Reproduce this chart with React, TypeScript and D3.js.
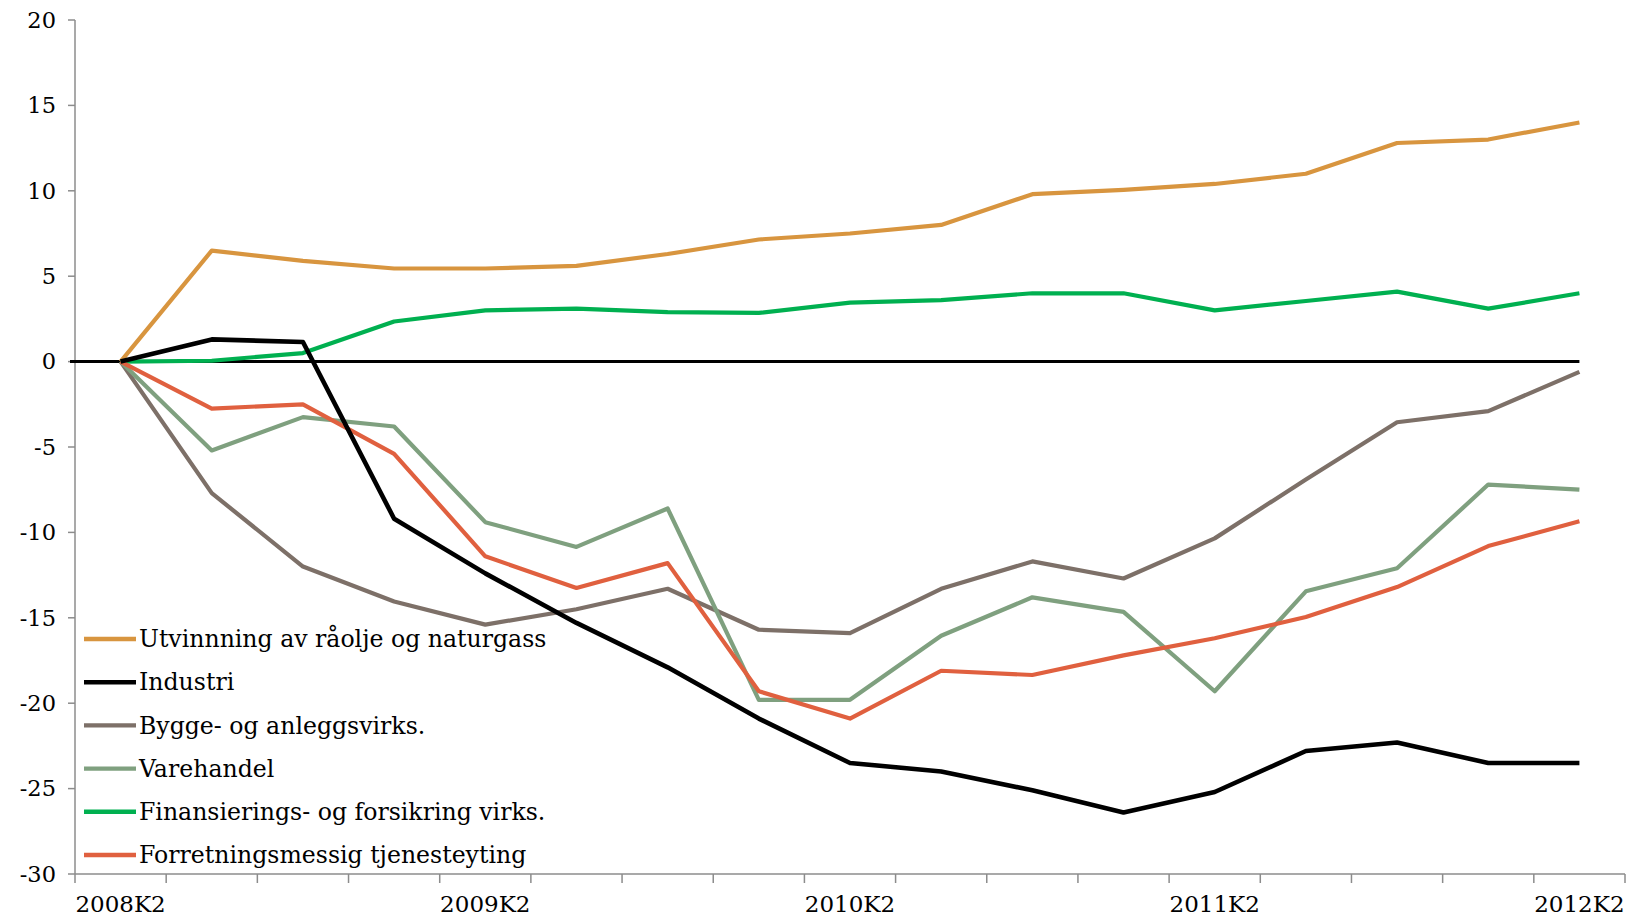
import React from "react";
import * as d3 from "d3";

const categories = [
  "2008K2","2008K3","2008K4","2009K1","2009K2","2009K3","2009K4","2010K1",
  "2010K2","2010K3","2010K4","2011K1","2011K2","2011K3","2011K4","2012K1","2012K2",
];
const shownLabels = ["2008K2", "2009K2", "2010K2", "2011K2", "2012K2"];
const yTicks = [-30, -25, -20, -15, -10, -5, 0, 5, 10, 15, 20];

const utvinning = [0, 6.5, 5.9, 5.45, 5.45, 5.6, 6.3, 7.15, 7.5, 8.0, 9.8, 10.05, 10.4, 11.0, 12.8, 13.0, 14.0];
const industri = [0, 1.3, 1.15, -9.2, -12.4, -15.3, -17.9, -20.9, -23.5, -24.0, -25.1, -26.4, -25.2, -22.8, -22.3, -23.5, -23.5];
const bygge = [0, -7.7, -12.0, -14.05, -15.4, -14.5, -13.3, -15.7, -15.9, -13.3, -11.7, -12.7, -10.35, -6.9, -3.55, -2.9, -0.6];
const varehandel = [0, -5.2, -3.25, -3.8, -9.4, -10.85, -8.6, -19.8, -19.8, -16.05, -13.8, -14.65, -19.3, -13.45, -12.1, -7.2, -7.5];
const finans = [0, 0.05, 0.5, 2.35, 3.0, 3.1, 2.9, 2.85, 3.45, 3.6, 4.0, 4.0, 3.0, 3.55, 4.1, 3.1, 4.0];
const forretning = [0, -2.75, -2.5, -5.4, -11.4, -13.25, -11.8, -19.3, -20.9, -18.1, -18.35, -17.2, -16.2, -14.95, -13.2, -10.8, -9.35];

const seriesNames = [
  "Utvinnning av råolje og naturgass",
  "Industri",
  "Bygge- og anleggsvirks.",
  "Varehandel",
  "Finansierings- og forsikring virks.",
  "Forretningsmessig tjenesteyting",
];
const seriesValues = [utvinning, industri, bygge, varehandel, finans, forretning];
const seriesColors = ["#D8953F", "#000000", "#7D7068", "#7FA07F", "#00B050", "#E0603F"];

const W = 1627;
const H = 923;
const left = 75;
const right = 1625;
const top = 20;
const bottom = 874;
const font = "'DejaVu Serif', 'Liberation Serif', serif";

export default function App() {
  const x = d3.scaleBand<string>().domain(categories).range([left, right]);
  const cx = (c: string) => (x(c) as number) + x.bandwidth() / 2;
  const y = d3.scaleLinear().domain([-30, 20]).range([bottom, top]);
  const line = d3
    .line<number>()
    .x((_, i) => cx(categories[i]))
    .y((v) => y(v));

  const drawOrder = [0, 4, 2, 3, 5, 1];
  const boundaries = categories.map((c) => x(c) as number).concat([right]);

  return (
    <svg
      width={W}
      height={H}
      style={{ position: "absolute", left: 0, top: 0, background: "#fff" }}
    >
      {/* y axis */}
      <line x1={left} x2={left} y1={top} y2={bottom} stroke="#8c8c8c" strokeWidth={1.5} />
      {yTicks.map((t) => (
        <g key={t}>
          <line x1={left - 7} x2={left} y1={y(t)} y2={y(t)} stroke="#8c8c8c" strokeWidth={1.5} />
          <text
            x={56}
            y={y(t)}
            dy="0.35em"
            textAnchor="end"
            fontFamily={font}
            fontSize={22.5}
            fill="#000"
          >
            {t}
          </text>
        </g>
      ))}
      {/* x axis */}
      <line x1={left} x2={right} y1={bottom} y2={bottom} stroke="#8c8c8c" strokeWidth={1.5} />
      {boundaries.map((b, i) => (
        <line key={i} x1={b} x2={b} y1={bottom} y2={bottom + 9} stroke="#8c8c8c" strokeWidth={1.5} />
      ))}
      {shownLabels.map((c) => (
        <text
          key={c}
          x={cx(c)}
          y={912}
          textAnchor="middle"
          fontFamily={font}
          fontSize={23}
          fill="#000"
        >
          {c}
        </text>
      ))}
      {/* zero line */}
      <line
        x1={left - 5}
        x2={cx(categories[categories.length - 1])}
        y1={y(0)}
        y2={y(0)}
        stroke="#000"
        strokeWidth={3}
      />
      {/* series */}
      {drawOrder.map((k) => (
        <path
          key={k}
          d={line(seriesValues[k]) as string}
          fill="none"
          stroke={seriesColors[k]}
          strokeWidth={k === 1 ? 4.6 : 4.2}
          strokeLinejoin="round"
        />
      ))}
      {/* legend */}
      {seriesNames.map((n, i) => {
        const ly = 639 + i * 43.2;
        return (
          <g key={n}>
            <line x1={84} x2={136} y1={ly} y2={ly} stroke={seriesColors[i]} strokeWidth={4.4} />
            <text x={139} y={ly} dy="0.35em" fontFamily={font} fontSize={23.6} fill="#000">
              {n}
            </text>
          </g>
        );
      })}
    </svg>
  );
}
